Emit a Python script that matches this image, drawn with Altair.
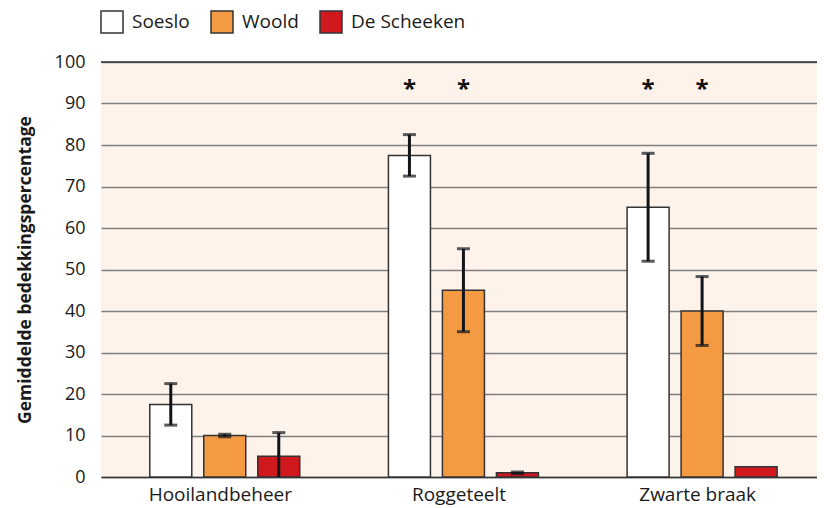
import altair as alt
import pandas as pd

groups = ["Hooilandbeheer", "Roggeteelt", "Zwarte braak"]
series = ["Soeslo", "Woold", "De Scheeken"]
colors = ["#ffffff", "#F39A42", "#D0191E"]

soeslo = [17.5, 77.5, 65.0]
soeslo_err = [5.0, 5.0, 13.0]
woold = [10.0, 45.0, 40.0]
woold_err = [0.3, 10.0, 8.3]
scheeken = [5.0, 1.0, 2.5]
scheeken_err = [5.7, 0.2, 0.0]

star_groups = ["Roggeteelt", "Roggeteelt", "Zwarte braak", "Zwarte braak"]
star_series = ["Soeslo", "Woold", "Soeslo", "Woold"]
star_level = 94.5

rows = []
for s, vals, errs in zip(series, [soeslo, woold, scheeken], [soeslo_err, woold_err, scheeken_err]):
    for g, v, e in zip(groups, vals, errs):
        rows.append({"group": g, "series": s, "value": v, "err": e,
                     "lo": max(v - e, 0), "hi": v + e})
df = pd.DataFrame(rows)
df_err = df[df["err"] > 0]
df_cap_lo = df_err[df_err["lo"] > 0]
stars = pd.DataFrame({"group": star_groups, "series": star_series, "y": [star_level] * 4, "t": ["*"] * 4})

FONT = "Open Sans"
x_enc = alt.X("group:N", sort=groups, title=None,
              scale=alt.Scale(paddingInner=0, paddingOuter=0),
              axis=alt.Axis(labelAngle=0, ticks=False, domain=True, domainColor="#333",
                            domainWidth=1.5, labelFontSize=19, labelPadding=8,
                            labelColor="#1a1a1a", labelFont=FONT))
xoff_scale = alt.Scale(paddingInner=0.222, paddingOuter=0.821, align=0.55)
xoff = alt.XOffset("series:N", sort=series, scale=xoff_scale)
y_scale = alt.Scale(domain=[0, 100], nice=False)

bars = alt.Chart(df).mark_bar(stroke="#333", strokeWidth=1.5).encode(
    x=x_enc,
    xOffset=xoff,
    y=alt.Y("value:Q", scale=y_scale, title="Gemiddelde bedekkingspercentage",
            axis=alt.Axis(values=list(range(0, 101, 10)), grid=True, gridColor="#808080",
                          gridWidth=1.5, domain=False, ticks=False, labelFontSize=18,
                          labelPadding=16, labelColor="#1a1a1a", labelFont=FONT,
                          titleFont=FONT, titleFontSize=17.5, titleFontWeight="bold",
                          titleColor="#1a1a1a", titlePadding=20)),
    fill=alt.Fill("series:N", sort=series,
                  scale=alt.Scale(domain=series, range=colors),
                  legend=alt.Legend(title=None, orient="none", direction="horizontal",
                                    legendX=-1, legendY=-52, symbolType="square",
                                    symbolSize=484, symbolStrokeColor="#333",
                                    symbolStrokeWidth=1.5, labelFontSize=19,
                                    labelFont=FONT, labelColor="#1a1a1a", labelOffset=8,
                                    columnPadding=18, symbolOpacity=1)),
)

top_rule = alt.Chart(pd.DataFrame({"y": [100]})).mark_rule(color="#333", strokeWidth=1.5).encode(
    y=alt.Y("y:Q", scale=y_scale))

err_rule = alt.Chart(df_err).mark_rule(color="#111519", strokeWidth=3).encode(
    x=alt.X("group:N", sort=groups), xOffset=xoff,
    y=alt.Y("lo:Q", scale=y_scale), y2="hi:Q")
cap_hi = alt.Chart(df_err).mark_tick(color="#111519", thickness=3, size=13).encode(
    x=alt.X("group:N", sort=groups), xOffset=xoff, y=alt.Y("hi:Q", scale=y_scale))
cap_lo = alt.Chart(df_cap_lo).mark_tick(color="#111519", thickness=3, size=13).encode(
    x=alt.X("group:N", sort=groups), xOffset=xoff, y=alt.Y("lo:Q", scale=y_scale))

star_marks = alt.Chart(stars).mark_text(fontSize=24, fontWeight="bold", color="#111",
                                        baseline="middle", dy=5, font=FONT).encode(
    x=alt.X("group:N", sort=groups), xOffset=xoff,
    y=alt.Y("y:Q", scale=y_scale), text="t:N")

chart = alt.layer(bars, top_rule, err_rule, cap_hi, cap_lo, star_marks).properties(
    width=716, height=415,
    autosize=alt.AutoSizeParams(type="none"),
    padding={"left": 93, "top": 54, "right": 0, "bottom": 28},
).configure_view(fill="#FEF3EA", stroke=None)

chart.save("out.html", embed_options={"renderer": "svg", "actions": False})
